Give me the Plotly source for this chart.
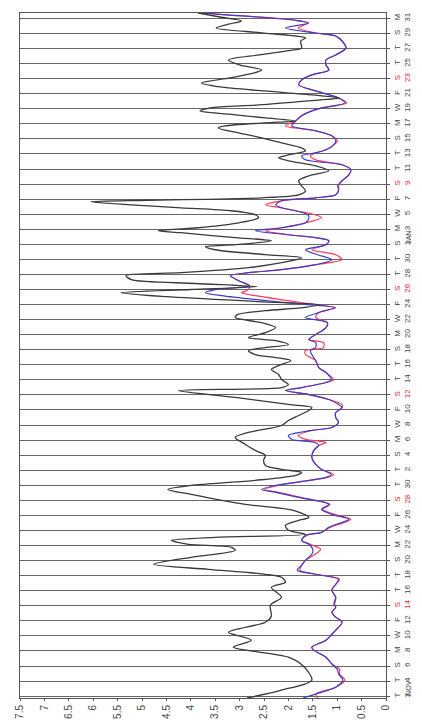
import pandas as pd
import plotly.graph_objects as go

# day number: 1999-10-31 + day (so Nov 2 = 2, Dec 1 = 31, Jan 1 = 62)
black_day = [1.75, 2.80, 4.12, 5.9, 7.17, 8.5, 9.43, 10.49, 11.81, 12.6,
             14.07, 15.13, 16.46, 17.12, 17.78, 18.18, 18.84, 19.51, 20.44, 21.36,
             21.76, 22.16, 22.69, 23.09, 23.49, 24.02, 24.68, 25.34, 25.74, 26.67,
             27.46, 28.79, 29.45, 29.98, 30.65, 31.31, 31.71, 32.11, 32.64, 33.3,
             33.96, 34.63, 35.42, 36.35, 37.01, 37.94, 38.6, 39.27, 39.93, 40.33,
             40.73, 41.66, 42.58, 42.98, 43.38, 44.04, 44.71, 45.37, 45.9, 46.56,
             46.96, 47.36, 47.89, 48.29, 48.69, 49.21, 49.61, 50.28, 50.94, 51.6,
             52.27, 52.66, 53.19, 53.59, 53.99, 54.39, 55.05, 55.58, 56.0, 56.38,
             56.8, 57.31, 57.84, 58.23, 58.9, 59.56, 60.22, 60.62, 61.28, 61.68,
             61.95, 62.48, 62.88, 63.54, 63.8, 64.2, 64.86, 65.53, 65.93, 66.46,
             66.85, 67.25, 67.65, 67.85, 68.18, 68.58, 69.11, 69.77, 70.44, 71.1,
             71.76, 72.43, 73.09, 73.49, 73.88, 74.41, 74.81, 75.47, 76.14, 76.8,
             77.46, 77.73, 78.13, 78.39, 78.79, 79.19, 79.72, 80.12, 80.51, 81.05,
             81.44, 81.84, 82.37, 82.9, 83.43, 84.1, 84.76, 85.16, 85.82, 86.48,
             87.15, 87.81, 88.07, 89.0, 89.4, 90.06, 90.73, 91.26, 91.66, 92.19,
             92.72]
black_val = [2.85, 2.14, 1.52, 1.68, 2.0, 3.13, 2.76, 3.23, 2.47, 2.35,
             2.37, 2.14, 2.35, 2.06, 2.14, 2.47, 3.64, 4.76, 3.99, 3.09,
             3.17, 4.05, 4.40, 3.5, 1.65, 2.0, 2.06, 1.79, 1.58, 1.9,
             2.88, 3.99, 4.47, 4.0, 2.68, 1.85, 1.73, 2.14, 2.47, 2.51,
             2.47, 2.68, 2.88, 3.09, 2.82, 2.14, 2.0, 1.79, 1.58, 1.52,
             2.0, 3.09, 4.25, 2.14, 2.0, 2.14, 2.2, 2.35, 2.2, 1.95,
             2.26, 2.68, 2.82, 2.47, 2.0, 2.26, 2.82, 2.47, 2.26, 2.55,
             3.09, 3.05, 2.47, 1.7, 1.35, 2.6, 4.5, 5.43, 4.0, 2.65,
             3.9, 5.22, 5.33, 4.2, 2.82, 2.14, 1.73, 2.47, 3.5, 3.7,
             3.09, 2.35, 3.09, 4.2, 4.67, 3.85, 3.02, 2.61, 2.68, 3.17,
             4.2, 5.22, 6.05, 4.9, 2.55, 1.79, 1.65, 1.73, 1.79, 1.58,
             1.17, 1.44, 2.0, 2.2, 2.0, 1.65, 1.73, 2.14, 2.55, 3.02,
             3.44, 3.3, 2.47, 1.85, 2.47, 3.09, 3.81, 3.6, 2.6, 1.6,
             0.95, 1.5, 2.5, 3.4, 3.78, 3.2, 2.7, 2.55, 3.0, 3.23,
             2.6, 1.9, 1.73, 1.75, 1.65, 2.5, 3.48, 3.2, 2.96, 3.4,
             3.85]

col_day = [1.75, 2.27, 3.19, 4.12, 4.92, 5.58, 6.24, 7.17, 8.1, 8.5,
           9.43, 10.22, 11.15, 11.81, 12.48, 13.14, 13.8, 14.2, 15.13, 16.06,
           16.85, 17.52, 18.18, 18.71, 19.37, 20.04, 20.83, 21.5, 22.16, 22.69,
           23.35, 23.75, 24.41, 25.08, 25.48, 26.14, 26.8, 27.46, 28.39, 29.06,
           29.45, 29.98, 30.65, 31.05, 31.44, 32.11, 32.77, 33.7, 34.63, 35.29,
           35.69, 36.09, 36.62, 37.28, 37.68, 38.34, 39.0, 39.66, 40.33, 40.73,
           41.39, 42.05, 42.58, 42.98, 43.65, 44.04, 44.97, 45.64, 46.56, 47.36,
           47.89, 48.29, 48.95, 49.35, 50.01, 50.94, 51.6, 52.27, 52.93, 53.59,
           53.99, 54.52, 55.18, 55.58, 55.98, 56.51, 57.17, 57.84, 58.23, 58.63,
           59.3, 59.96, 60.62, 61.28, 61.95, 62.48, 62.88, 63.27, 63.8, 64.2,
           64.86, 65.53, 65.93, 66.46, 66.85, 67.25, 67.78, 68.18, 68.58, 69.24,
           69.77, 70.44, 71.23, 71.9, 72.56, 73.22, 73.75, 74.15, 74.55, 75.21,
           75.74, 76.41, 77.07, 77.73, 78.39, 79.06, 79.72, 80.12, 80.78, 81.44,
           82.37, 83.17, 83.83, 84.5, 85.16, 85.82, 86.48, 87.15, 88.07, 89.0,
           89.67, 90.06, 90.73, 91.39, 91.79, 92.45, 92.72]
blue_val = [1.7, 1.44, 1.03, 0.88, 0.97, 1.0, 1.11, 1.23, 1.48, 1.52,
            1.23, 1.11, 0.97, 0.9, 1.03, 1.11, 1.03, 1.07, 1.03, 1.11,
            1.03, 0.97, 1.44, 1.82, 1.73, 1.65, 1.52, 1.5, 1.58, 1.73,
            1.65, 1.32, 1.17, 0.9, 0.76, 1.11, 1.32, 1.17, 1.79, 2.26,
            2.55, 2.26, 1.58, 1.23, 1.12, 1.32, 1.44, 1.52, 1.48, 1.38,
            1.45, 1.93, 2.0, 1.52, 1.11, 0.97, 1.03, 1.03, 0.9, 0.97,
            1.17, 1.58, 2.06, 1.73, 1.23, 1.12, 1.23, 1.38, 1.44, 1.52,
            1.55, 1.44, 1.44, 1.58, 1.44, 1.23, 1.2, 1.65, 1.38, 1.05,
            1.6, 2.47, 3.37, 3.7, 3.5, 2.8, 3.02, 3.19, 2.82, 2.14,
            1.44, 1.11, 1.4, 1.65, 1.23, 1.17, 1.44, 2.0, 2.68, 2.14,
            1.65, 1.58, 1.6, 1.85, 2.14, 2.26, 2.14, 1.44, 1.03, 0.97,
            0.99, 0.9, 0.76, 0.72, 0.9, 1.65, 1.73, 1.44, 1.23, 1.07,
            1.03, 1.11, 1.44, 1.93, 1.85, 1.73, 1.52, 1.32, 0.84, 0.97,
            1.44, 1.79, 1.73, 1.52, 1.17, 1.23, 1.23, 1.03, 0.82, 0.9,
            1.03, 1.44, 2.06, 1.58, 1.9, 3.2, 3.8]
red_val = [1.4, 1.44, 1.03, 0.84, 0.95, 0.95, 1.1, 1.23, 1.48, 1.52,
           1.23, 1.11, 0.97, 0.9, 1.03, 1.11, 1.03, 1.05, 1.03, 1.11,
           1.03, 0.95, 1.44, 1.76, 1.73, 1.65, 1.45, 1.34, 1.55, 1.73,
           1.62, 1.32, 1.15, 0.85, 0.72, 1.05, 1.3, 1.15, 1.75, 2.2,
           2.5, 2.2, 1.55, 1.2, 1.07, 1.32, 1.44, 1.52, 1.48, 1.38,
           1.23, 1.65, 1.8, 1.52, 1.11, 0.97, 1.03, 1.03, 0.9, 0.9,
           1.17, 1.58, 2.06, 1.73, 1.23, 1.07, 1.23, 1.38, 1.44, 1.65,
           1.65, 1.28, 1.28, 1.58, 1.44, 1.23, 1.2, 1.44, 1.38, 1.03,
           1.45, 2.0, 2.68, 2.96, 2.82, 2.8, 3.02, 3.19, 2.82, 2.14,
           1.44, 0.9, 1.03, 1.52, 1.23, 1.17, 1.44, 2.0, 2.47, 2.14,
           1.65, 1.32, 1.45, 1.85, 2.14, 2.47, 2.14, 1.44, 1.03, 0.97,
           0.97, 0.9, 0.76, 0.72, 0.9, 1.44, 1.55, 1.44, 1.23, 1.07,
           1.0, 1.11, 1.44, 2.06, 1.85, 1.73, 1.52, 1.3, 0.8, 0.97,
           1.44, 1.79, 1.73, 1.52, 1.17, 1.23, 1.23, 1.03, 0.82, 0.9,
           1.03, 1.44, 1.8, 1.6, 1.9, 3.2, 3.8]

value_ticks = [0, 0.5, 1, 1.5, 2, 2.5, 3, 3.5, 4, 4.5, 5, 5.5, 6, 6.5, 7, 7.5]
tick_start = "1999-11-02"
tick_count = 46          # every 2 days, Nov 2 .. Jan 31
weekday_letters = ["M", "T", "W", "T", "F", "S", "S"]
month_labels = [("NOV<br>1999", 3.0), ("DEC", 33.6), ("JAN<br>2000", 62.9)]

base = pd.Timestamp("1999-10-31")
def to_time(days):
    return [base + pd.Timedelta(days=d) for d in days]

tick_dates = pd.date_range(tick_start, periods=tick_count, freq="2D")
tick_text = []
for t in tick_dates:
    letter = weekday_letters[t.weekday()]
    if t.weekday() == 6:
        tick_text.append(f'<span style="color:#e8203a">{letter}</span><br>'
                         f'<span style="color:#e8203a">{t.day}</span>')
    else:
        tick_text.append(f"{letter}<br>{t.day}")

fig = go.Figure()
fig.add_trace(go.Scatter(x=red_val, y=to_time(col_day), mode="lines",
                         line=dict(color="#ff3a5c", width=1.2, shape="spline", smoothing=0.8)))
fig.add_trace(go.Scatter(x=blue_val, y=to_time(col_day), mode="lines",
                         line=dict(color="#3c3cc8", width=1.2, shape="spline", smoothing=0.8)))
fig.add_trace(go.Scatter(x=black_val, y=to_time(black_day), mode="lines",
                         line=dict(color="#3a3a3a", width=1.3, shape="spline", smoothing=0.8)))

for txt, d in month_labels:
    fig.add_annotation(x=1.097, xref="paper", xanchor="right",
                       y=base + pd.Timedelta(days=d), yref="y",
                       text=txt, textangle=-90, showarrow=False, borderpad=0,
                       font=dict(size=7, color="#444", family="Liberation Sans"))

fig.update_layout(
    width=422, height=720,
    margin=dict(l=12, r=44, t=5, b=30),
    paper_bgcolor="white", plot_bgcolor="white",
    showlegend=False,
    font=dict(family="Liberation Sans", color="#444"),
)
fig.update_xaxes(range=[7.5, 0], tickvals=value_ticks, tickangle=-90,
                 ticks="outside", ticklen=2, tickcolor="#555",
                 tickfont=dict(size=10, color="#444"),
                 showgrid=False, zeroline=False, automargin=False,
                 showline=True, linecolor="#555", linewidth=1, mirror=True)
fig.update_yaxes(type="date",
                 range=[base + pd.Timedelta(days=1.75), base + pd.Timedelta(days=92.72)],
                 tickvals=list(tick_dates), ticktext=tick_text, tickangle=-90,
                 side="right", ticks="outside", ticklen=3, tickcolor="#555",
                 tickfont=dict(size=8, color="#444"), automargin=False,
                 showgrid=True, gridcolor="#666", gridwidth=1, zeroline=False,
                 showline=True, linecolor="#555", linewidth=1, mirror=True)

fig.write_html("out.html")
